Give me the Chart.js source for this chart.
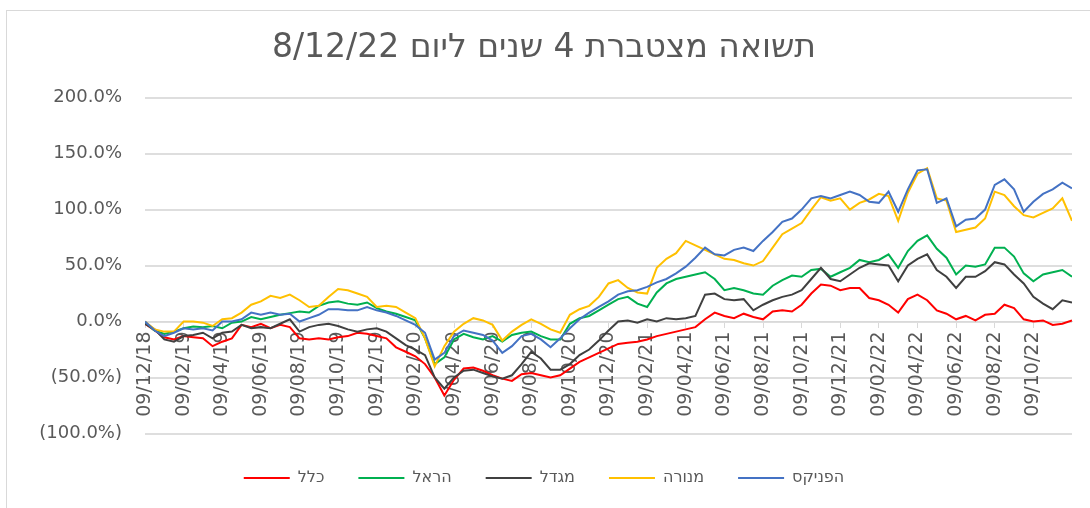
<!DOCTYPE html>
<html lang="he">
<head>
<meta charset="utf-8">
<title>תשואה מצטברת 4 שנים</title>
<script src="https://cdn.jsdelivr.net/npm/chart.js@4.4.0/dist/chart.umd.min.js"></script>
<style>
  body { margin: 0; background: #fff; }
  #frame { position: absolute; left: 6px; top: 10px; width: 1100px; height: 520px; border: 1px solid #d9d9d9; }
  #returnsChart { position: absolute; left: 0; top: 0; }
</style>
</head>
<body>
<div id="frame"></div>
<canvas id="returnsChart" width="1090" height="508"></canvas>
<script>
// cumulative return (%), one sample every half month starting 09/12/18
const stepMonths = 0.5;

const seriesNames = ['כלל', 'הראל', 'מגדל', 'מנורה', 'הפניקס'];
const seriesColors = ['#ff0000', '#00b050', '#404040', '#ffc000', '#4472c4'];

const clal = [-2,-8,-14,-16,-13,-14,-15,-22,-18,-15, -3,-5,-2,-6,-3,-5,-15,-16,-15,-16,
  -14,-13,-10,-11,-13,-15,-23,-27,-31,-38, -50,-66,-52,-42,-41,-44,-48,-51,-53,-47,
  -46,-48,-50,-48,-42,-36,-32,-28,-24,-20, -19,-18,-16,-13,-11,-9,-7,-5,2,8,
  5,3,7,4,2,9,10,9,15,25, 33,32,28,30,30,21,19,15,8,20,
  24,19,10,7,2,5,1,6,7,15, 12,2,0,1,-3,-2,1];

const harel = [-1,-8,-11,-9,-6,-4.5,-5,-4,-6,-1, 0,4,2,4,6,7.5,9,8,14,17,
  18,16,15,17,12,9,7,4,1,-15, -38,-32,-16,-11,-14,-16,-13,-18,-12,-10,
  -9,-13,-16,-16,-2,3,5,10,15,20, 22,16,13,26,34,38,40,42,44,38,
  28,30,28,25,24,32,37,41,40,46, 47,40,44,48,55,53,55,60,48,63,
  72,77,65,57,42,50,49,51,66,66, 58,43,36,42,44,46,40];

const migdal = [-2,-7,-16,-18,-13,-12,-10,-15,-10,-9, -3,-6,-5,-6,-2,2,-9,-5,-3,-2,
  -4,-7,-9,-7,-6,-9,-15,-21,-25,-30, -50,-60,-50,-44,-43,-46,-49,-51,-48,-38,
  -27,-33,-43,-43,-38,-30,-25,-17,-8,0, 1,-1,2,0,3,2,3,5,24,25,
  20,19,20,10,15,19,22,24,28,38, 48,38,36,42,48,52,51,50,36,50,
  56,60,46,40,30,40,40,45,53,51, 42,34,22,16,11,19,17];

const menora = [0,-7,-9,-9,0,0,-1,-4,2,3, 8,15,18,23,21,24,19,13,14,22,
  29,28,25,22,13,14,13,8,3,-15, -40,-22,-9,-2,3,1,-3,-17,-9,-3,
  2,-2,-7,-10,6,11,14,22,34,37, 30,26,25,48,56,61,72,68,64,60,
  56,55,52,50,54,66,78,83,88,100, 111,108,110,100,106,109,114,112,90,115,
  132,137,110,108,80,82,84,92,116,113, 103,95,93,97,101,110,90];

const phoenix = [0,-8,-13,-10,-6,-7,-6,-8,0,0, 2,8,6,8,6,7,0,3,6,11,
  11,10,10,13,10,8,5,1,-3,-10, -34,-28,-13,-8,-10,-12,-17,-28,-22,-13,
  -11,-16,-23,-15,-6,2,8,13,18,24, 27,28,31,35,38,43,49,57,66,60,
  59,64,66,63,72,80,89,92,100,110, 112,110,113,116,113,107,106,116,98,118,
  135,136,106,110,85,91,92,100,122,127, 118,98,107,114,118,124,119];

const seriesValues = [clal, harel, migdal, menora, phoenix];

// axis labels, one every two months
const tickLabels = ['09/12/18','09/02/19','09/04/19','09/06/19','09/08/19','09/10/19',
  '09/12/19','09/02/20','09/04/20','09/06/20','09/08/20','09/10/20',
  '09/12/20','09/02/21','09/04/21','09/06/21','09/08/21','09/10/21',
  '09/12/21','09/02/22','09/04/22','09/06/22','09/08/22','09/10/22'];
const tickEveryMonths = 2;

const yTicks = [-100, -50, 0, 50, 100, 150, 200];

Chart.defaults.font.family = "'DejaVu Sans', sans-serif";
Chart.defaults.color = '#595959';

function pctLabel(v) {
  if (v < 0) return '(' + Math.abs(v).toFixed(1) + '%)';
  return v.toFixed(1) + '%';
}

const datasets = seriesValues.map((values, i) => ({
  label: seriesNames[i],
  data: values.map((v, j) => ({ x: j * stepMonths, y: v })),
  borderColor: seriesColors[i],
  backgroundColor: seriesColors[i],
  borderWidth: 2,
  pointRadius: 0,
  tension: 0,
  fill: false,
  order: seriesValues.length - i // last series drawn on top, like excel
}));

const ctx = document.getElementById('returnsChart').getContext('2d');
new Chart(ctx, {
  type: 'line',
  data: { datasets: datasets },
  options: {
    responsive: false,
    animation: false,
    layout: { padding: { left: 16, right: 18, top: 0, bottom: 12 } },
    scales: {
      x: {
        type: 'linear',
        position: { y: 0 },
        min: 0,
        max: (clal.length - 1) * stepMonths,
        afterBuildTicks: (scale) => {
          scale.ticks = tickLabels.map((lbl, i) => ({ value: i * tickEveryMonths }));
        },
        ticks: {
          autoSkip: false,
          minRotation: 90,
          maxRotation: 90,
          padding: 4,
          font: { size: 19 },
          color: '#595959',
          callback: (value, index) => tickLabels[index]
        },
        grid: { drawOnChartArea: false, drawTicks: true, tickLength: 6, color: '#d9d9d9' },
        border: { display: true, color: '#d9d9d9', width: 1 }
      },
      // empty axis that only keeps a gap between plot and legend
      gap: {
        type: 'linear',
        position: 'bottom',
        ticks: { display: false },
        grid: { display: false },
        border: { display: false },
        afterFit: (scale) => { scale.height = 2.5; }
      },
      y: {
        min: -100,
        max: 200,
        afterBuildTicks: (scale) => {
          scale.ticks = yTicks.map(v => ({ value: v }));
        },
        afterFit: (scale) => { scale.width = 129; },
        ticks: {
          padding: 23,
          font: { size: 18 },
          color: '#595959',
          callback: (value) => pctLabel(value)
        },
        grid: { color: '#dedede', lineWidth: 2, drawTicks: false },
        border: { display: false }
      }
    },
    plugins: {
      title: {
        display: true,
        text: 'תשואה מצטברת 4 שנים ליום 8/12/22',
        color: '#595959',
        font: { size: 33, weight: 'normal', lineHeight: 1.2 },
        padding: { top: 29, bottom: 29 }
      },
      legend: {
        position: 'bottom',
        labels: {
          usePointStyle: true,
          pointStyle: 'line',
          pointStyleWidth: 46,
          padding: 34,
          font: { size: 16 },
          color: '#595959',
          sort: (a, b) => a.datasetIndex - b.datasetIndex
        }
      },
      tooltip: { enabled: false }
    }
  }
});
</script>
</body>
</html>
